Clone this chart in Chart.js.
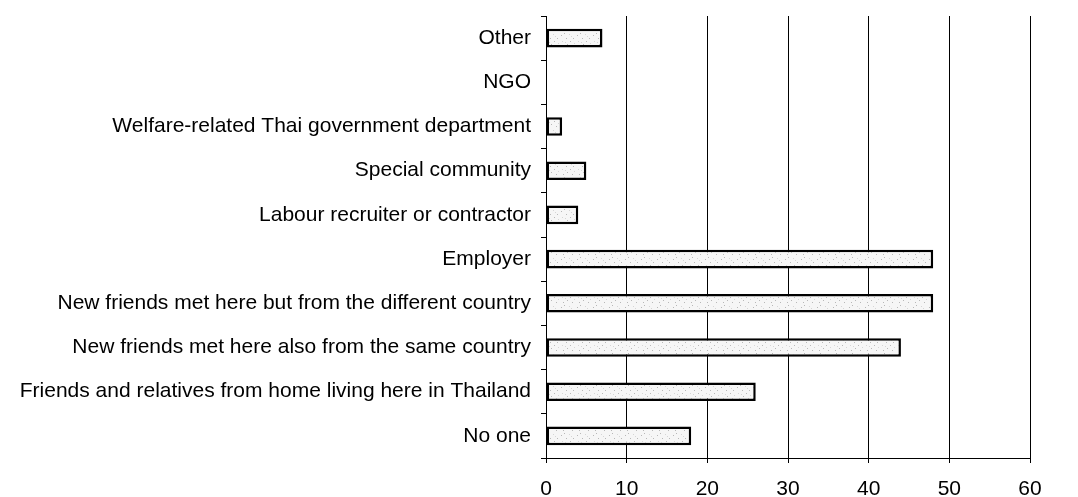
<!DOCTYPE html>
<html>
<head>
<meta charset="utf-8">
<script src="https://cdn.jsdelivr.net/npm/chart.js@4.4.1/dist/chart.umd.min.js"></script>
<style>
  html, body { margin: 0; padding: 0; background: #fff; }
  #wrap { width: 1078px; height: 497px; }
</style>
</head>
<body>
<div id="wrap"><canvas id="helpChart"></canvas></div>
<script>
// Who helps migrants when they need it
const helpSources = [
    'Other',
    'NGO',
    'Welfare-related Thai government department',
    'Special community',
    'Labour recruiter or contractor',
    'Employer',
    'New friends met here but from the different country',
    'New friends met here also from the same country',
    'Friends and relatives from home living here in Thailand',
    'No one'
]

const helpCounts = [7, 0, 2, 5, 4, 48, 48, 44, 26, 18]

const axisTicks = [0, 10, 20, 30, 40, 50, 60]

// light speckled fill for the bars
const makeSpeckle = () => {
    const c = document.createElement('canvas');
    c.width = 16; c.height = 16;
    const g = c.getContext('2d');
    g.fillStyle = '#f6f6f6';
    g.fillRect(0, 0, 16, 16);
    g.fillStyle = '#b8b8b8';
    [[1, 3], [4, 1], [7, 12], [10, 9], [13, 6], [3, 14], [12, 14], [6, 6]].forEach(([x, y]) => g.fillRect(x, y, 1, 1));
    g.fillStyle = '#d6d6d6';
    [[2, 9], [9, 2], [14, 11], [5, 10], [11, 4]].forEach(([x, y]) => g.fillRect(x, y, 1, 1));
    return g.createPattern(c, 'repeat');
};

const ctx = document.getElementById('helpChart');

const labelFont = { family: 'Liberation Sans, Arial, sans-serif', size: 21 };

new Chart(ctx, {
    type: 'bar',
    data: {
        labels: helpSources,
        datasets: [{
            data: helpCounts,
            backgroundColor: makeSpeckle(),
            borderColor: '#000',
            borderWidth: 2.5,
            borderSkipped: false,
            categoryPercentage: 1,
            barPercentage: 0.42
        }]
    },
    options: {
        indexAxis: 'y',
        responsive: true,
        maintainAspectRatio: false,
        animation: false,
        layout: { padding: { top: 16, right: 48, left: 0, bottom: 0 } },
        plugins: { legend: { display: false }, tooltip: { enabled: false } },
        scales: {
            x: {
                min: 0,
                max: 60,
                afterBuildTicks: scale => { scale.ticks = axisTicks.map(v => ({ value: v })); },
                afterFit: scale => { scale.height = 39; },
                border: { color: '#000', width: 1 },
                grid: { color: '#000', lineWidth: 1, tickLength: 5 },
                ticks: { color: '#000', font: labelFont, padding: 14 }
            },
            y: {
                afterFit: scale => { scale.width = 546; scale.paddingTop = 0; scale.paddingBottom = 0; },
                border: { color: '#000', width: 1 },
                grid: { drawOnChartArea: false, color: '#000', tickLength: 5 },
                ticks: { color: '#000', font: { ...labelFont, lineHeight: 0.8 }, padding: 10, autoSkip: false }
            }
        }
    }
});
</script>
</body>
</html>
